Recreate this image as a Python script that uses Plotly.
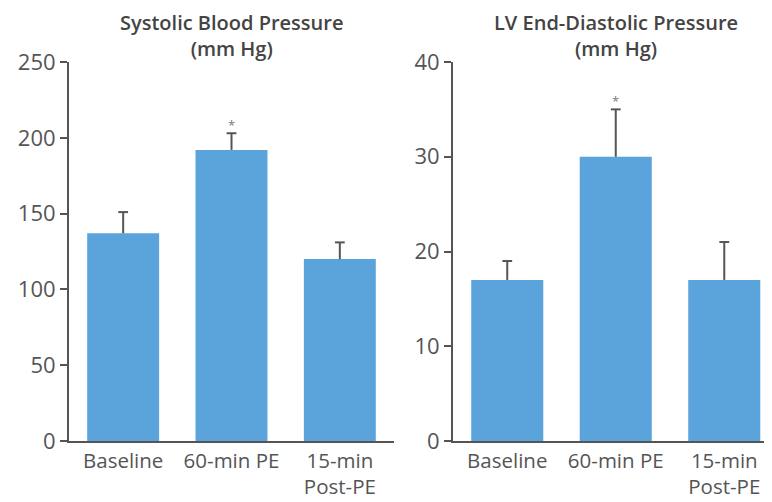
import plotly.graph_objects as go
from plotly.subplots import make_subplots

categories = ["Baseline", "60-min PE", "15-min<br>Post-PE"]
sbp_values = [137, 192, 120]
sbp_errors = [14, 11, 11]
lvedp_values = [17, 30, 17]
lvedp_errors = [2, 5, 4]
sbp_ticks = [0, 50, 100, 150, 200, 250]
lvedp_ticks = [0, 10, 20, 30, 40]
titles = ["Systolic Blood Pressure<br>(mm Hg)", "LV End-Diastolic Pressure<br>(mm Hg)"]
significant = [False, True, False]

BAR = "#5aa3db"
INK = "#555555"
FONT = "Open Sans"

# page body has an 8px margin; figure is sized to fill the rest of the window
W, H = 764, 494

fig = make_subplots(rows=1, cols=2)

xs = list(range(len(categories)))
for col, (vals, errs) in enumerate([(sbp_values, sbp_errors), (lvedp_values, lvedp_errors)], start=1):
    fig.add_trace(go.Bar(
        x=xs, y=vals,
        marker=dict(color=BAR, line=dict(width=0)),
        error_y=dict(type="data", symmetric=False, array=errs, arrayminus=[0] * len(errs),
                     color=INK, thickness=2, width=0),
        showlegend=False, hoverinfo="y",
    ), row=1, col=col)
    # caps only at the top of each error bar
    fig.add_trace(go.Scatter(
        x=xs, y=[v + e for v, e in zip(vals, errs)], mode="markers",
        marker=dict(symbol="line-ew-open", size=7, color=INK, line=dict(color=INK, width=2)),
        showlegend=False, hoverinfo="skip",
    ), row=1, col=col)
    xref = "x" if col == 1 else "x2"
    yref = "y" if col == 1 else "y2"
    for i, sig in enumerate(significant):
        if sig:
            fig.add_annotation(x=i, y=vals[i] + errs[i], xref=xref, yref=yref, text="*",
                               showarrow=False, yanchor="bottom", yshift=-3,
                               font=dict(family=FONT, size=13, color="#777777"))

fig.update_layout(
    width=W, height=H,
    margin=dict(l=0, r=0, t=54, b=61),
    plot_bgcolor="white", paper_bgcolor="white",
    bargap=0.336,
    font=dict(family=FONT, color=INK),
)

axis_common = dict(showline=True, linecolor=INK, linewidth=2, showgrid=False, zeroline=False,
                   automargin=False)

fig.update_xaxes(**axis_common, tickmode="array", tickvals=xs,
                 ticktext=categories, ticks="", tickfont=dict(family=FONT, size=20.5, color=INK))
fig.update_xaxes(domain=[61 / W, 386 / W], range=[-0.5, 2.5], row=1, col=1)
fig.update_xaxes(domain=[445 / W, 1.0], range=[-0.5, 2.44], row=1, col=2)

fig.update_yaxes(**axis_common, ticks="outside", ticklen=7, tickwidth=2, tickcolor=INK,
                 tickfont=dict(family=FONT, size=22, color=INK))
fig.update_yaxes(range=[0, 250], tickvals=sbp_ticks, row=1, col=1)
fig.update_yaxes(range=[0, 40], tickvals=lvedp_ticks, row=1, col=2)

title_x = [224 / W, 608 / W]
for t, tx in zip(titles, title_x):
    fig.add_annotation(x=tx, y=1.0, xref="paper", yref="paper", yshift=55, text=t,
                       showarrow=False, yanchor="top", xanchor="center",
                       font=dict(family=FONT, size=20, color="#444444", weight=600))

fig.write_html("out.html")
